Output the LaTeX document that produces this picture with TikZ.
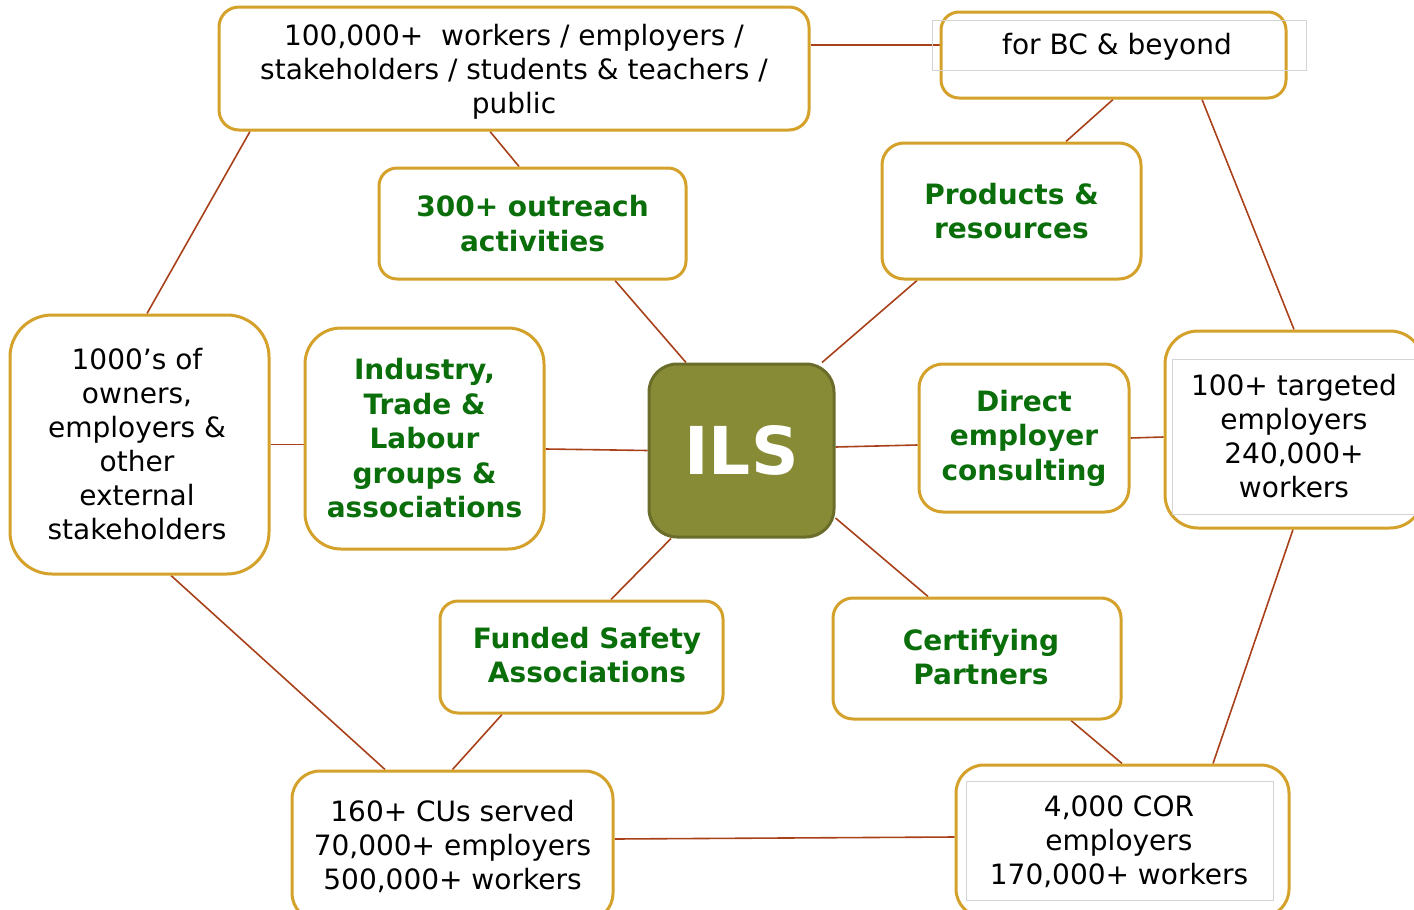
\documentclass[tikz,border=0pt]{standalone}
\usepackage{fontspec}
\setmainfont{DejaVu Sans}
\usetikzlibrary{backgrounds}
\definecolor{gold}{HTML}{D4A12A}
\definecolor{grn}{HTML}{0A6E0A}
\definecolor{lnk}{HTML}{A8401A}
\definecolor{olive}{HTML}{878B35}
\definecolor{olivedk}{HTML}{6A6C2A}
\definecolor{faint}{HTML}{D4D4D4}
\begin{document}
\begin{tikzpicture}[x=1pt,y=-1pt,
  box/.style={draw=gold, line width=3pt, fill=white, align=center, inner sep=0pt,
    font=\fontsize{28}{34}\selectfont},
  gbox/.style={box, text=grn, font=\fontsize{28}{34.5}\selectfont\bfseries},
  txt/.style={align=center, inner sep=0pt, font=\fontsize{28}{34}\selectfont},
  link/.style={draw=lnk, line width=1.6pt},
  frame/.style={draw=faint, line width=1pt}]
\useasboundingbox (0,0) rectangle (1414,910);
\clip (0,0) rectangle (1414,910);

\node[box, rounded corners=20pt, minimum width=590pt, minimum height=123pt] (top) at (514,68.5) {};
\node[box, rounded corners=18pt, minimum width=345pt, minimum height=86pt] (forbc) at (1113.5,55) {};
\node[gbox, rounded corners=18pt, minimum width=307pt, minimum height=111pt] (out) at (532.5,223.5)
  {300+ outreach\\activities};
\node[gbox, rounded corners=22pt, minimum width=259pt, minimum height=136pt] (prod) at (1011.5,211)
  {Products \&\\resources};
\node[box, rounded corners=42pt, minimum width=259pt, minimum height=259pt] (left) at (139.5,444.5) {};
\node[gbox, rounded corners=36pt, minimum width=239pt, minimum height=221pt] (ind) at (424.5,438.5)
  {Industry,\\Trade \&\\Labour\\groups \&\\associations};
\node[draw=olivedk, fill=olive, line width=3pt, rounded corners=28pt, minimum width=185pt,
  minimum height=173pt, inner sep=0pt, text=white, font=\fontsize{66}{70}\selectfont\bfseries]
  (ils) at (741.5,450.5) {ILS};
\node[gbox, rounded corners=24pt, minimum width=210pt, minimum height=148pt] (dir) at (1024,438)
  {Direct\\employer\\consulting};
\node[box, rounded corners=33pt, minimum width=258pt, minimum height=197pt] (right) at (1294,429.5) {};
\node[box, rounded corners=18pt, minimum width=283pt, minimum height=112pt] (fund) at (581.5,657) {};
\node[box, rounded corners=20pt, minimum width=288pt, minimum height=121pt] (cert) at (977,658.5) {};
\node[box, rounded corners=28pt, minimum width=321pt, minimum height=150pt] (bl) at (452.5,846)
  {160+ CUs served\\70,000+ employers\\500,000+ workers};
\node[box, rounded corners=28pt, minimum width=333pt, minimum height=152pt] (br) at (1122.5,841) {};

% faint text-box frames
\draw[frame] (932,20) rectangle (1306,70);
\draw[frame] (1172,359) rectangle (1420,514);
\draw[frame] (966,781) rectangle (1273,900);

% texts placed off-centre in their boxes
\node[txt] (topt) at (514,72) {100,000+ \ workers / employers /\\stakeholders / students \& teachers /\\public};
\node[txt] (forbct) at (1117,47) {for BC \& beyond};
\node[txt] (leftt) at (137,444.5) {1000’s of\\owners,\\employers \&\\other\\external\\stakeholders};
\node[txt] (rightt) at (1294,436) {100+ targeted\\employers\\240,000+\\workers};
\node[txt] (brt) at (1119,842) {4,000 COR\\employers\\170,000+ workers};
\node[txt, text=grn, font=\fontsize{28}{34.5}\selectfont\bfseries] (fundt) at (587,655) {Funded Safety\\Associations};
\node[txt, text=grn, font=\fontsize{28}{34.5}\selectfont\bfseries] (certt) at (981,657) {Certifying\\Partners};

\begin{scope}[on background layer]
\draw[link] ([yshift=23.5pt]top.east) -- ([yshift=10pt]forbc.west);
\draw[link] ([xshift=-24pt]top.south) -- ([xshift=-13.5pt]out.north);
\draw[link] ([xshift=-264pt]top.south) -- ([xshift=7.5pt]left.north);
\draw[link] ([xshift=-0.5pt]forbc.south) -- ([xshift=54.5pt]prod.north);
\draw[link] ([xshift=88.5pt]forbc.south) -- (right.north);
\draw[link] ([xshift=82.5pt]out.south) -- ([xshift=-55.5pt]ils.north);
\draw[link] ([xshift=-94.5pt]prod.south) -- ([xshift=80.5pt]ils.north);
\draw[link] (left.east) -- ([yshift=-6pt]ind.west);
\draw[link] ([yshift=-10.5pt]ind.east) -- (ils.west);
\draw[link] ([yshift=3.5pt]ils.east) -- ([yshift=-7pt]dir.west);
\draw[link] (dir.east) -- ([yshift=-7.5pt]right.west);
\draw[link] ([xshift=-70.5pt]ils.south) -- ([xshift=29.5pt]fund.north);
\draw[link] ([yshift=-67.5pt]ils.east) -- ([xshift=-49pt]cert.north);
\draw[link] ([xshift=-79.5pt]fund.south) -- (bl.north);
\draw[link] ([xshift=94pt]cert.south) -- ([xshift=-0.5pt]br.north);
\draw[link] ([xshift=31.5pt]left.south) -- ([xshift=-67.5pt]bl.north);
\draw[link] ([yshift=7pt]bl.east) -- ([yshift=4pt]br.west);
\draw[link] ([xshift=-1pt]right.south) -- ([xshift=90.5pt]br.north);
\end{scope}
\end{tikzpicture}
\end{document}
